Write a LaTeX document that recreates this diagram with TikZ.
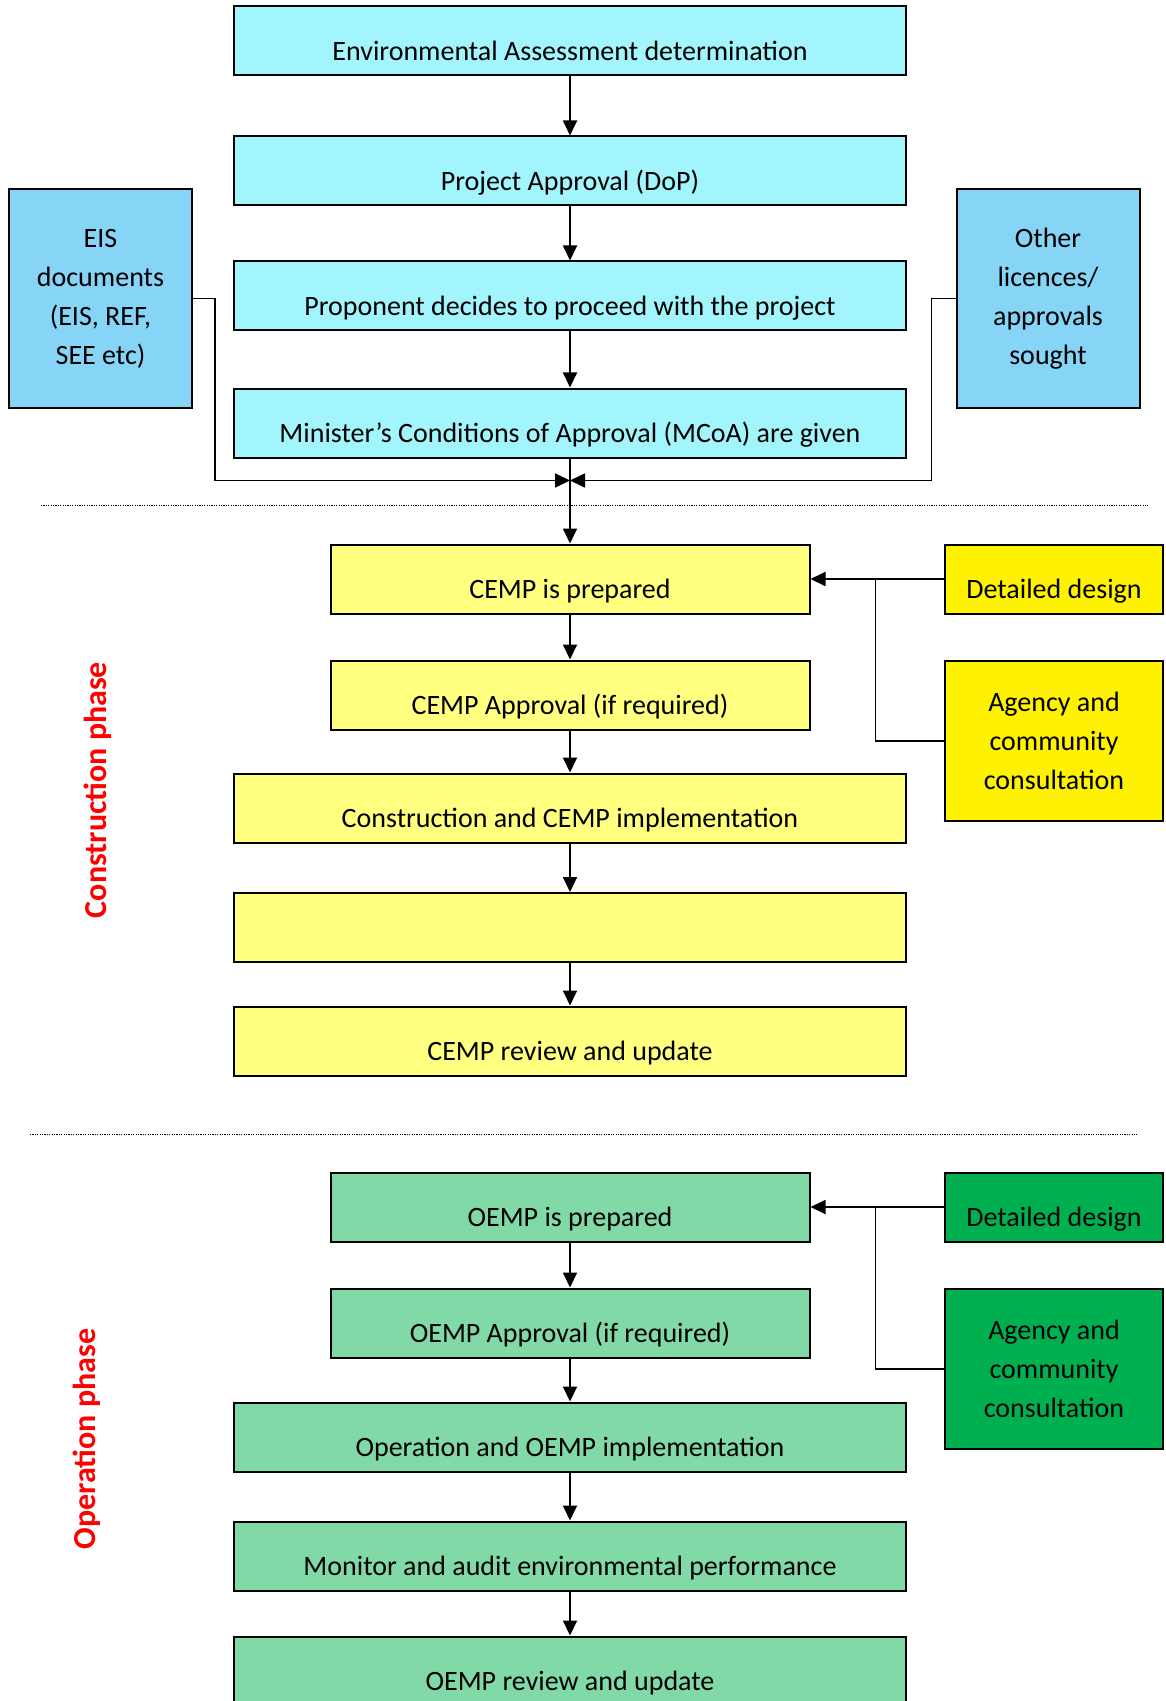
\documentclass[tikz,border=0pt]{standalone}
\usepackage{fontspec}
\setmainfont{Carlito}
\usetikzlibrary{arrows.meta}

\definecolor{cyanbox}{HTML}{A2F5FD}
\definecolor{bluebox}{HTML}{86D5F6}
\definecolor{paleyellow}{HTML}{FFFF80}
\definecolor{paleteal}{HTML}{82D9A8}
\definecolor{deepgreen}{HTML}{00B050}

\tikzset{
  stagebox/.style={draw, line width=1pt, inner sep=0pt, minimum height=34.5pt,
    text height=22pt, text depth=2.8pt, font=\fontsize{14}{17}\selectfont},
  widebox/.style={stagebox, minimum width=336pt},
  narrowbox/.style={stagebox, minimum width=239.5pt},
  sidebox/.style={draw, line width=1pt, inner sep=0pt, align=center,
    font=\fontsize{14}{19.5}\selectfont},
  flowarrow/.style={line width=0.9pt, -{Triangle[length=7.5pt,width=7pt]}},
  feedline/.style={line width=0.9pt},
  divider/.style={line width=0.6pt, dash pattern=on 0.6pt off 0.6pt},
  phaselabel/.style={rotate=90, text=red, font=\fontsize{16}{19}\selectfont\bfseries}
}

\begin{document}
\begin{tikzpicture}[x=0.5pt, y=-0.5pt]
    \useasboundingbox (0,0) rectangle (1166,1701);

    \node[widebox, fill=cyanbox] (env) at (570,41) {Environmental Assessment determination};
    \node[widebox, fill=cyanbox] (dop) at (570,171) {Project Approval (DoP)};
    \node[widebox, fill=cyanbox] (proceed) at (570,296) {Proponent decides to proceed with the project};
    \node[widebox, fill=cyanbox] (mcoa) at (570,423) {Minister’s Conditions of Approval (MCoA) are given};

    \node[sidebox, fill=bluebox, minimum width=91.5pt, minimum height=109.5pt] (eis) at (100.5,298.5)
        {EIS\\documents\\(EIS, REF,\\SEE etc)};
    \node[sidebox, fill=bluebox, minimum width=91.5pt, minimum height=109.5pt] (other) at (1048,298.5)
        {Other\\licences/\\approvals\\sought};

    \coordinate (mrg) at (570,480.5);

    \draw[flowarrow] (env) -- (dop);
    \draw[flowarrow] (dop) -- (proceed);
    \draw[flowarrow] (proceed) -- (mcoa);
    \draw[flowarrow] (eis.east) -- ++(22,0) |- (mrg);
    \draw[flowarrow] (other.west) -- ++(-24,0) |- (mrg);

    \draw[divider] (41,505.5) -- (1148,505.5);

    \node[narrowbox, fill=paleyellow] (cprep) at (570,579) {CEMP is prepared};
    \node[narrowbox, fill=paleyellow] (capp) at (570,695) {CEMP Approval (if required)};
    \node[widebox, fill=paleyellow] (cimpl) at (570,808) {Construction and CEMP implementation};
    \node[widebox, fill=paleyellow] (cblank) at (570,927.5) {};
    \node[widebox, fill=paleyellow] (crev) at (570,1041) {CEMP review and update};

    \node[stagebox, fill=yellow, minimum width=109pt] (cdes) at (1054,579) {Detailed design};
    \node[sidebox, fill=yellow, minimum width=109pt, minimum height=80.25pt] (ccons) at (1054,741)
        {Agency and\\community\\consultation};

    \draw[flowarrow] (mcoa) -- (cprep);
    \draw[flowarrow] (cprep) -- (capp);
    \draw[flowarrow] (capp) -- (cimpl);
    \draw[flowarrow] (cimpl) -- (cblank);
    \draw[flowarrow] (cblank) -- (crev);
    \draw[flowarrow] (cdes) -- (cprep);
    \draw[feedline] (ccons.west) -- ++(-68.5,0) |- (cdes.west);

    \node[phaselabel] (cphase) at (97.5,790) {Construction phase};

    \draw[divider] (30,1134.5) -- (1137,1134.5);

    \node[narrowbox, fill=paleteal] (oprep) at (570,1207) {OEMP is prepared};
    \node[narrowbox, fill=paleteal] (oapp) at (570,1323) {OEMP Approval (if required)};
    \node[widebox, fill=paleteal] (oimpl) at (570,1437) {Operation and OEMP implementation};
    \node[widebox, fill=paleteal] (omon) at (570,1556) {Monitor and audit environmental performance};
    \node[widebox, fill=paleteal] (orev) at (570,1671) {OEMP review and update};

    \node[stagebox, fill=deepgreen, minimum width=109pt] (odes) at (1054,1207) {Detailed design};
    \node[sidebox, fill=deepgreen, minimum width=109pt, minimum height=80.25pt] (ocons) at (1054,1369)
        {Agency and\\community\\consultation};

    \draw[flowarrow] (oprep) -- (oapp);
    \draw[flowarrow] (oapp) -- (oimpl);
    \draw[flowarrow] (oimpl) -- (omon);
    \draw[flowarrow] (omon) -- (orev);
    \draw[flowarrow] (odes) -- (oprep);
    \draw[feedline] (ocons.west) -- ++(-68.5,0) |- (odes.west);

    \node[phaselabel] (ophase) at (87,1439) {Operation phase};
\end{tikzpicture}
\end{document}
